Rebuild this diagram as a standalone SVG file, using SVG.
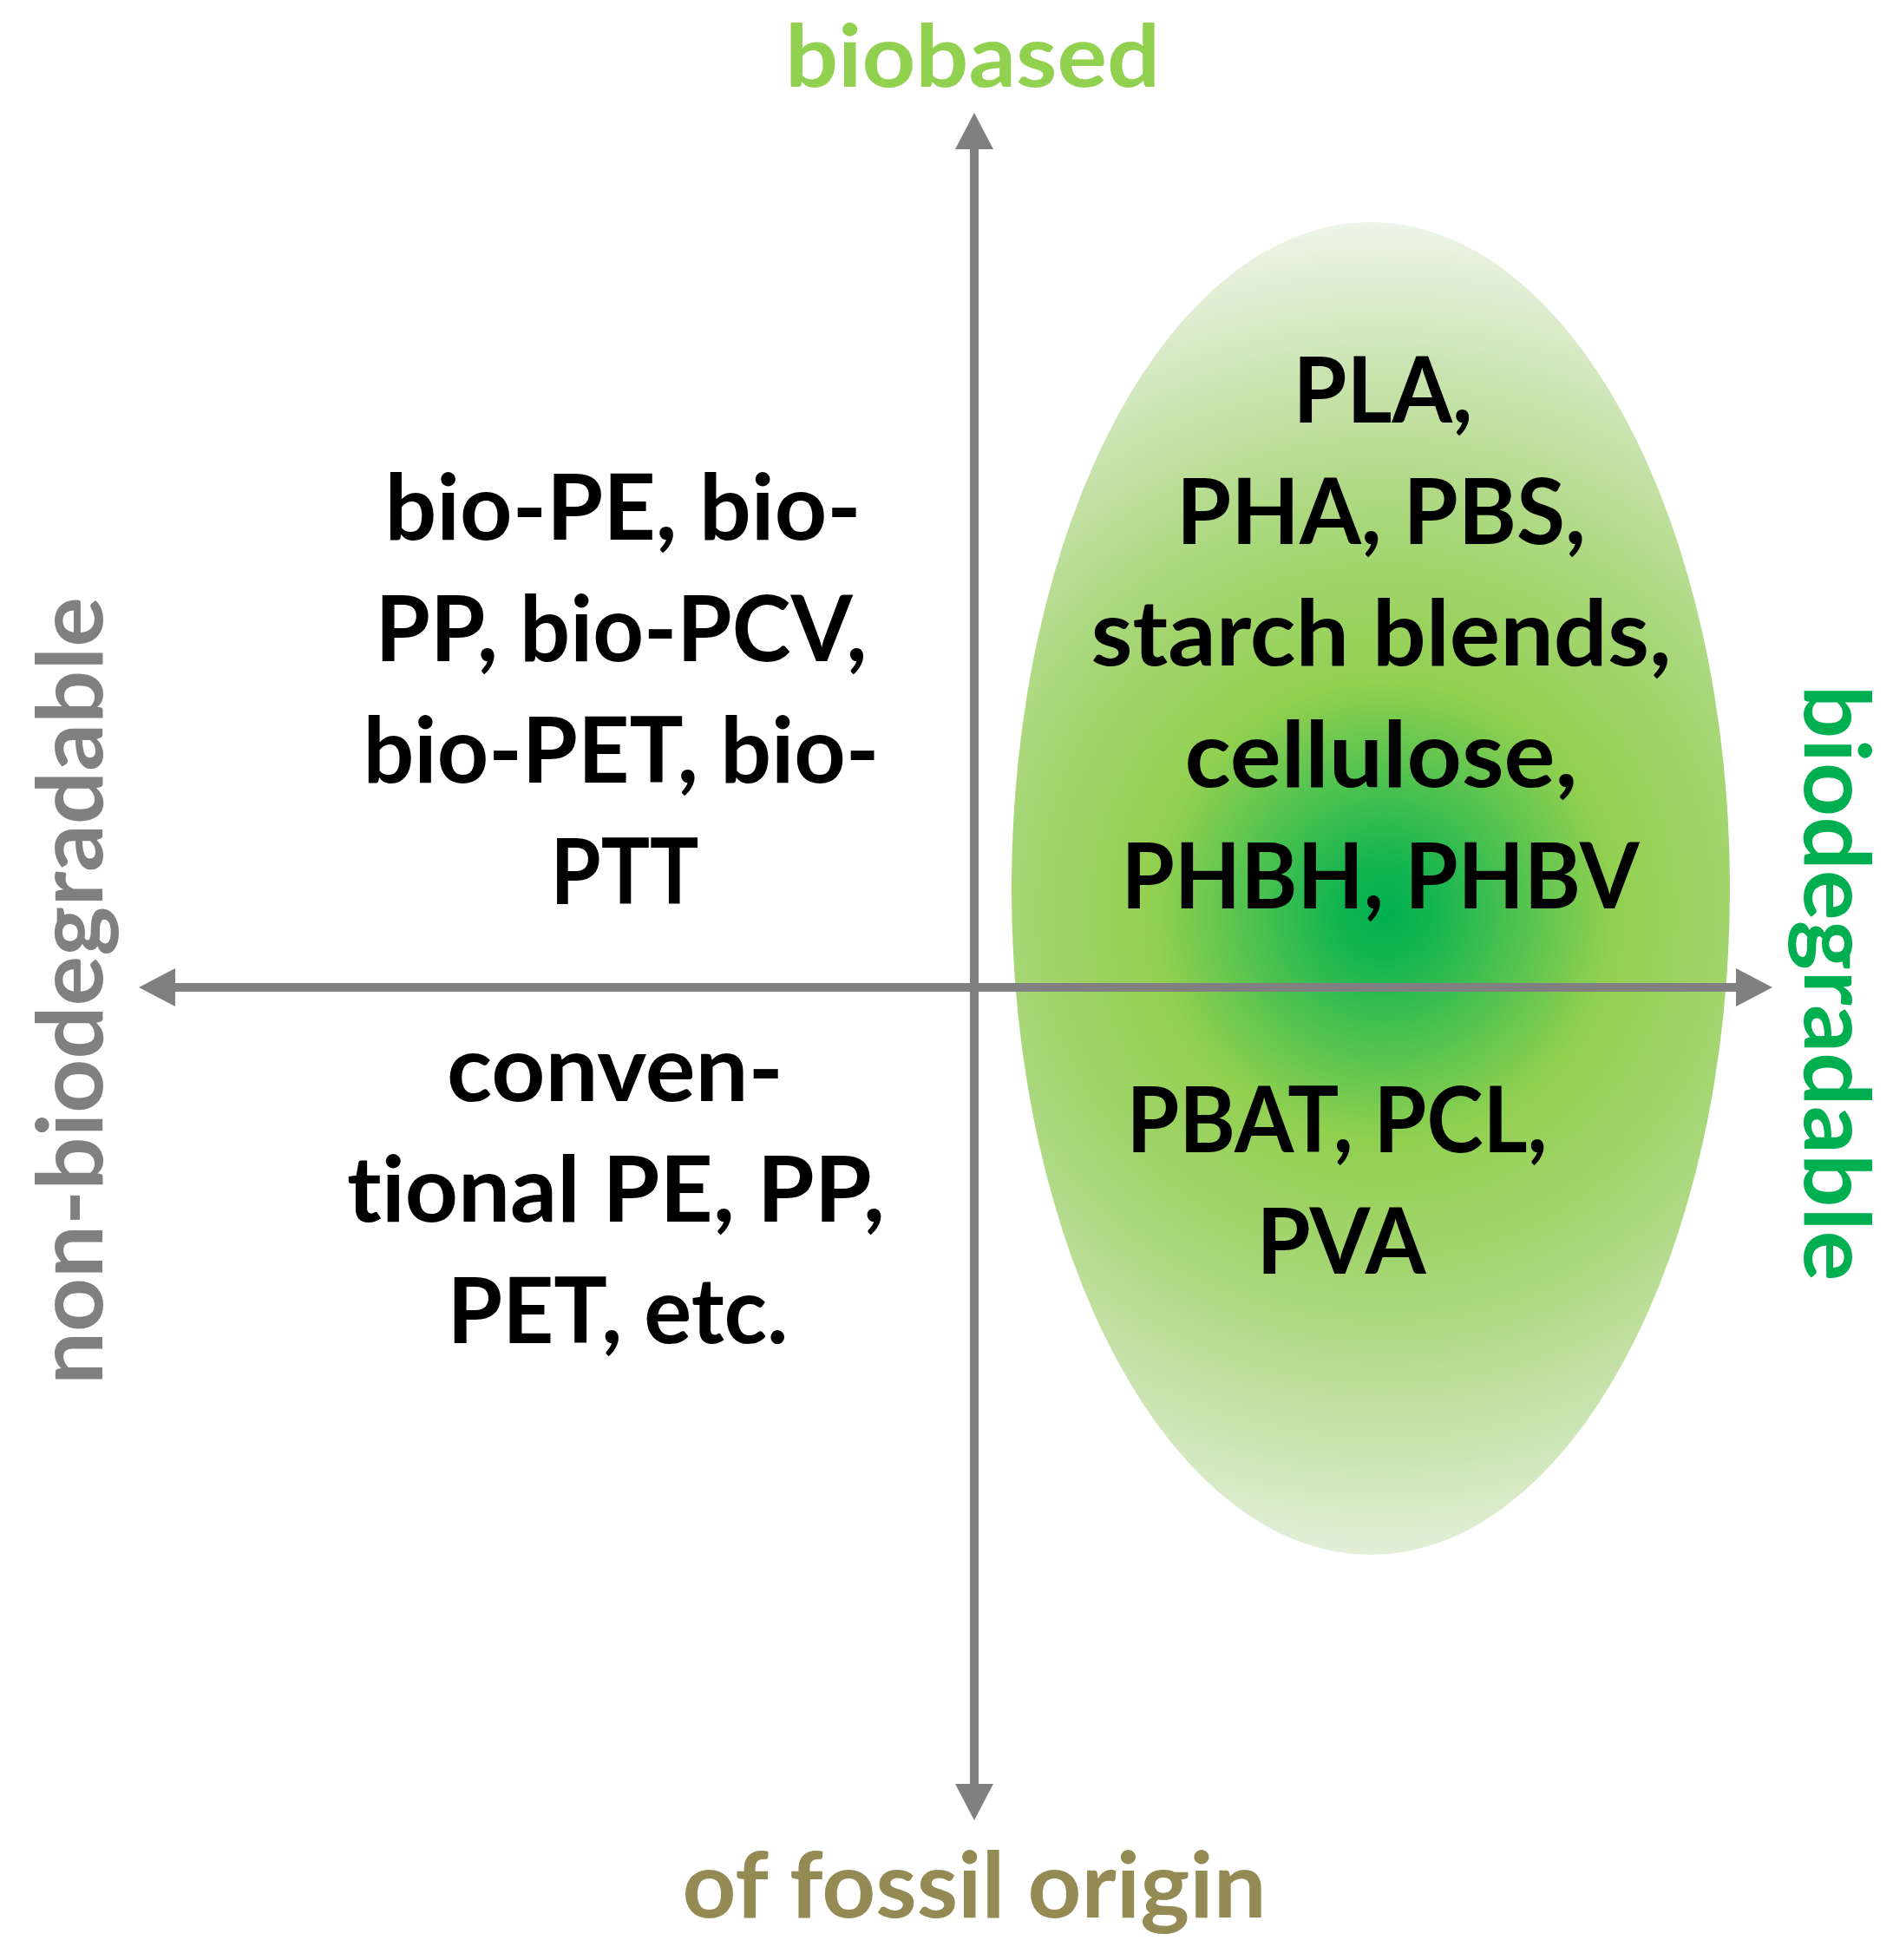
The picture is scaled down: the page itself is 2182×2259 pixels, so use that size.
<svg xmlns="http://www.w3.org/2000/svg" width="2182" height="2259" viewBox="0 0 2182 2259">
  <style>
    text { font-family: Lato, "Open Sans", "Liberation Sans", sans-serif; font-weight: 700; font-size: 106px; text-anchor: middle; font-variant-ligatures: none; font-feature-settings: "liga" 0, "clig" 0; }
    .body { fill: #000000; }
    .axis { stroke: #808080; stroke-width: 10; fill: none; }
  </style>
  <defs>
    <marker id="arrow" viewBox="0 0 42 44" markerWidth="42" markerHeight="44" refX="0" refY="22" markerUnits="userSpaceOnUse" orient="auto-start-reverse">
      <path d="M0,0 L42,22 L0,44 z" fill="#808080"/>
    </marker>
    <radialGradient id="greenGlow" gradientUnits="userSpaceOnUse" cx="1595" cy="1050" r="800">
      <stop offset="0" stop-color="#00B050"/>
      <stop offset="0.07" stop-color="#14B550"/>
      <stop offset="0.33" stop-color="#92D050"/>
      <stop offset="0.55" stop-color="#A7D677"/>
      <stop offset="0.8" stop-color="#CDE5B6"/>
      <stop offset="1" stop-color="#EEF5EA"/>
    </radialGradient>
  </defs>

  <g id="biodegradable-zone">
    <ellipse cx="1580" cy="1024" rx="414" ry="768" fill="url(#greenGlow)"/>
  </g>

  <g id="connectors">
    <line class="axis" x1="1123" y1="2056" x2="1123" y2="172" marker-start="url(#arrow)" marker-end="url(#arrow)"/>
    <line class="axis" x1="202" y1="1138" x2="2001" y2="1138" marker-start="url(#arrow)" marker-end="url(#arrow)"/>
  </g>

  <g id="label-biobased">
    <text x="1121" y="100" fill="#92D050" style="font-size:100px" textLength="432" lengthAdjust="spacingAndGlyphs">biobased</text>
  </g>
  <g id="label-fossil">
    <text x="1123" y="2210" fill="#948A54" textLength="673" lengthAdjust="spacingAndGlyphs">of fossil origin</text>
  </g>
  <g id="label-non-biodegradable">
    <text x="118" y="1142" fill="#808080" transform="rotate(-90 118 1142)" textLength="908" lengthAdjust="spacingAndGlyphs">non-biodegradable</text>
  </g>
  <g id="label-biodegradable">
    <text x="2080" y="1133" fill="#00B050" transform="rotate(90 2080 1133)" textLength="687" lengthAdjust="spacingAndGlyphs">biodegradable</text>
  </g>

  <g id="quadrant-biobased-nonbiodegradable" class="body">
    <text x="718" y="622" textLength="549" lengthAdjust="spacingAndGlyphs">bio-PE, bio-</text>
    <text x="716" y="762" textLength="567" lengthAdjust="spacingAndGlyphs">PP, bio-PCV,</text>
    <text x="716" y="902" textLength="595" lengthAdjust="spacingAndGlyphs">bio-PET, bio-</text>
    <text x="720" y="1042" textLength="171" lengthAdjust="spacingAndGlyphs">PTT</text>
  </g>

  <g id="quadrant-fossil-nonbiodegradable" class="body">
    <text x="709" y="1269" textLength="388" lengthAdjust="spacingAndGlyphs">conven-</text>
    <text x="710" y="1408" textLength="620" lengthAdjust="spacingAndGlyphs">tional PE, PP,</text>
    <text x="712" y="1548" textLength="393" lengthAdjust="spacingAndGlyphs">PET, etc.</text>
  </g>

  <g id="quadrant-biobased-biodegradable" class="body">
    <text x="1594" y="487" textLength="207" lengthAdjust="spacingAndGlyphs">PLA,</text>
    <text x="1592" y="627" textLength="472" lengthAdjust="spacingAndGlyphs">PHA, PBS,</text>
    <text x="1592" y="767" textLength="669" lengthAdjust="spacingAndGlyphs">starch blends,</text>
    <text x="1592" y="907" textLength="453" lengthAdjust="spacingAndGlyphs">cellulose,</text>
    <text x="1591" y="1047" textLength="597" lengthAdjust="spacingAndGlyphs">PHBH, PHBV</text>
  </g>

  <g id="quadrant-fossil-biodegradable" class="body">
    <text x="1541" y="1328" textLength="485" lengthAdjust="spacingAndGlyphs">PBAT, PCL,</text>
    <text x="1546" y="1468" textLength="195" lengthAdjust="spacingAndGlyphs">PVA</text>
  </g>
</svg>
